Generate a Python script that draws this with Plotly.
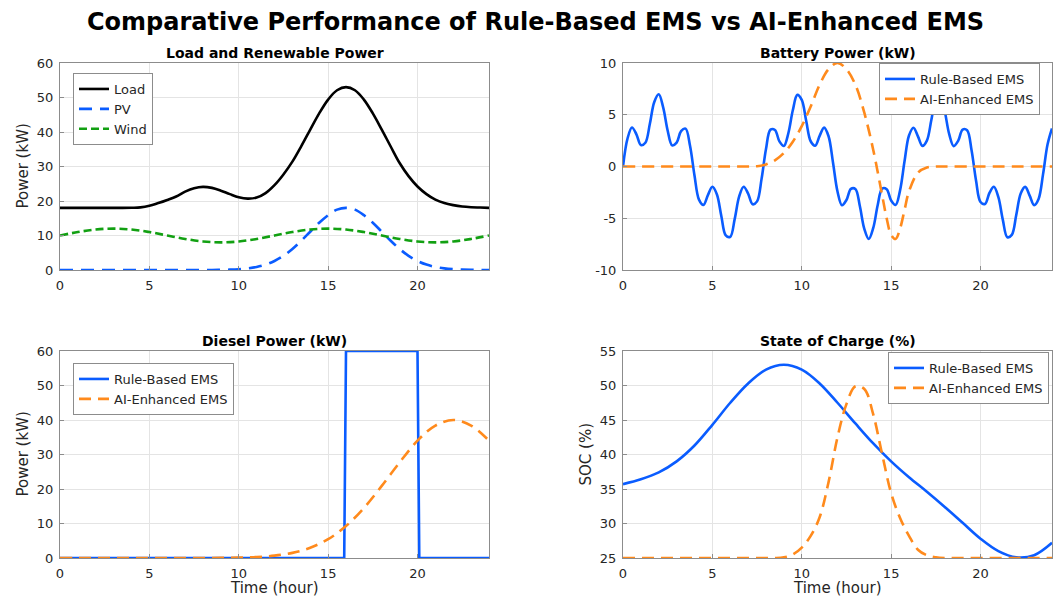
import plotly.graph_objects as go

W, H = 1061, 599

# ---------------- data ----------------
half_hours = [i * 0.5 for i in range(49)]
quarter_hours = [i * 0.25 for i in range(97)]
hours = list(range(25))

load_kw = [18.0, 18.0, 18.0, 18.0, 18.0, 18.0, 18.0, 18.0, 18.05, 18.15,
           18.6, 19.4, 20.3, 21.3, 22.7, 23.7, 24.1, 23.8, 23.0, 22.0,
           21.1, 20.7, 21.0, 22.3, 24.6, 27.7, 31.4, 35.9, 40.7, 45.4,
           49.4, 52.1, 53.0, 52.1, 49.4, 45.4, 40.7, 35.8, 31.0, 27.2,
           24.2, 22.0, 20.4, 19.4, 18.8, 18.4, 18.2, 18.1, 18.0]

pv_kw = [0, 0, 0, 0, 0, 0, 0, 0, 0, 0, 0, 0, 0, 0, 0, 0, 0, 0,
         0.05, 0.11, 0.23, 0.47, 0.89, 1.57, 2.62, 4.11, 6.09, 8.48,
         11.1, 13.7, 15.9, 17.5, 18.0, 17.5, 15.9, 13.7, 11.1, 8.48,
         6.09, 4.11, 2.62, 1.57, 0.89, 0.47, 0.23, 0.11, 0.05, 0.02, 0.01]

wind_kw = [10.0, 11.0, 11.73, 12.0, 11.73, 11.0, 10.0, 9.0, 8.27, 8.0,
           8.27, 9.0, 10.0, 11.0, 11.73, 12.0, 11.73, 11.0, 10.0, 9.0,
           8.27, 8.0, 8.27, 9.0, 10.0]

batt_rule_kw = [0.0, 2.68, 3.77, 3.11, 2.07, 2.29, 4.10, 6.24, 6.98, 5.69,
                3.46, 2.04, 2.30, 3.42, 3.66, 2.01, -0.87, -3.20, -3.71, -2.76,
                -1.96, -2.68, -4.78, -6.66, -6.79, -5.06, -2.89, -1.95, -2.62, -3.65,
                -3.37, -1.22, 1.69, 3.56, 3.53, 2.43, 1.98, 3.21, 5.43, 6.92,
                6.44, 4.39, 2.44, 2.01, 2.96, 3.76, 2.92, 0.37, -2.41, -3.74,
                -3.24, -2.16, -2.17, -3.82, -6.02, -7.00, -5.94, -3.72, -2.13, -2.19,
                -3.29, -3.72, -2.31, 0.50, 3.00, 3.75, 2.91, 1.99, 2.50, 4.49,
                6.50, 6.90, 5.34, 3.12, 1.97, 2.48, 3.57, 3.51, 1.57, -1.35,
                -3.43, -3.62, -2.56, -1.96, -2.97, -5.16, -6.83, -6.61, -4.68, -2.61,
                -1.97, -2.81, -3.73, -3.13, -0.74, 2.12, 3.68]

batt_ai_t = [0, 6, 7, 7.5, 8, 8.5, 9, 9.5, 10, 10.5, 11, 11.5, 12, 12.5, 13,
             13.5, 14, 14.5, 14.75, 15, 15.25, 15.5, 15.75, 16, 16.5, 17,
             17.5, 18, 24]
batt_ai_kw = [0, 0, 0.0, 0.03, 0.2, 0.6, 1.3, 2.4, 3.9, 5.8, 7.9, 9.4, 10.0,
              9.4, 7.9, 5.2, 1.6, -2.8, -5.0, -6.6, -7.0, -6.0, -4.2, -2.4,
              -0.6, -0.1, 0, 0, 0]

diesel_rule_t = [0, 15.9, 16.0, 20.0, 20.1, 24]
diesel_rule_kw = [0, 0, 60, 60, 0, 0]

diesel_ai_kw = [0, 0, 0, 0, 0, 0, 0, 0, 0.01, 0.04, 0.12, 0.29, 0.69, 1.49,
                2.97, 5.45, 9.26, 14.5, 20.9, 27.7, 34.0, 38.4, 40.0, 38.4, 34.0]

soc_rule = [35.7, 36.4, 37.4, 39.0, 41.3, 44.3, 47.5, 50.3, 52.3, 53.0,
            52.3, 50.3, 47.5, 44.5, 41.6, 39.0, 36.7, 34.6, 32.4, 30.1,
            27.8, 26.0, 25.1, 25.4, 27.2]

soc_ai = [25.0] * 18 + [25.1, 25.5, 26.5, 28.2, 30.9, 36.0, 42.5, 47.3, 49.9,
                        49.5, 45.8, 40.0, 34.4, 30.8, 28.2, 26.2, 25.4, 25.1, 25.0] + [25.0] * 12

x_ticks = [0, 5, 10, 15, 20]
batt_ticks = [-10, -5, 0, 5, 10]
batt_tick_labels = ['-10', '-5', '0', '5', '10']

# ---------------- styling ----------------
BLUE = '#0a5cff'
ORANGE = '#ff8a1c'
GREEN = '#12a012'
FONT = 'DejaVu Sans'

fig = go.Figure()

def line(x, y, name, color, ax, legend, dash='solid', width=2.6, shape='spline'):
    fig.add_trace(go.Scatter(
        x=x, y=y, name=name, mode='lines',
        line=dict(color=color, width=width, dash=dash, shape=shape),
        xaxis='x' + ax, yaxis='y' + ax, legend=legend, showlegend=True))

line(half_hours, load_kw, 'Load', 'black', '', 'legend')
line(half_hours, pv_kw, 'PV', BLUE, '', 'legend', dash='13px,8px')
line(hours, wind_kw, 'Wind', GREEN, '', 'legend', dash='8px,4px')

line(quarter_hours, batt_rule_kw, 'Rule-Based EMS', BLUE, '2', 'legend2')
line(batt_ai_t, batt_ai_kw, 'AI-Enhanced EMS', ORANGE, '2', 'legend2', dash='12px,7px')

line(diesel_rule_t, diesel_rule_kw, 'Rule-Based EMS', BLUE, '3', 'legend3', shape='linear')
line(hours, diesel_ai_kw, 'AI-Enhanced EMS', ORANGE, '3', 'legend3', dash='12px,7px')

line(hours, soc_rule, 'Rule-Based EMS', BLUE, '4', 'legend4')
line(half_hours, soc_ai, 'AI-Enhanced EMS', ORANGE, '4', 'legend4', dash='12px,7px')

def px_x(p):
    return p / W

def px_y(p):
    return 1 - p / H

L1, R1 = 60, 489
L2, R2 = 623, 1052
T1, B1 = 63, 270
T2, B2 = 351, 558

axis_common = dict(
    showline=True, mirror=True, linecolor='#8c8c8c', linewidth=1,
    showgrid=True, gridcolor='#e4e4e4', gridwidth=1,
    ticks='inside', ticklen=4, tickcolor='#8c8c8c',
    tickfont=dict(family=FONT, size=13, color='#262626'),
    zeroline=False, ticklabelstandoff=3, automargin=False,
)

def xax(l, r, anchor):
    d = dict(axis_common)
    d.update(domain=[px_x(l), px_x(r)], range=[0, 24], tickvals=x_ticks, anchor=anchor)
    return d

def yax(t, b, rng, dtick, anchor, **extra):
    d = dict(axis_common)
    d.update(domain=[px_y(b), px_y(t)], range=rng, dtick=dtick, tick0=rng[0], anchor=anchor)
    d.update(extra)
    return d

legend_common = dict(
    bgcolor='white', bordercolor='#8c8c8c', borderwidth=1,
    font=dict(family=FONT, size=13, color='#262626'),
    tracegroupgap=0, itemwidth=30,
)

def leg(x, y, xanchor):
    d = dict(legend_common)
    d.update(x=x, y=y, xanchor=xanchor, yanchor='top', xref='paper', yref='paper')
    return d

ann = []
def text(x, y, s, size, bold=False, angle=0):
    ann.append(dict(
        x=px_x(x), y=px_y(y), xref='paper', yref='paper', showarrow=False,
        text=('<b>%s</b>' % s) if bold else s, textangle=angle,
        font=dict(family=FONT, size=size, color='#000000' if bold else '#262626'),
        xanchor='center', yanchor='middle'))

text(535, 22, 'Comparative Performance of Rule-Based EMS vs AI-Enhanced EMS', 24, bold=True)
text((L1 + R1) / 2, 53, 'Load and Renewable Power', 14, bold=True)
text((L2 + R2) / 2, 53, 'Battery Power (kW)', 14, bold=True)
text((L1 + R1) / 2, 341, 'Diesel Power (kW)', 14, bold=True)
text((L2 + R2) / 2, 341, 'State of Charge (%)', 14, bold=True)
text(22, (T1 + B1) / 2, 'Power (kW)', 15, angle=-90)
text(22, (T2 + B2) / 2, 'Power (kW)', 15, angle=-90)
text(585, (T2 + B2) / 2, 'SOC (%)', 15, angle=-90)
text((L1 + R1) / 2, 588, 'Time (hour)', 15)
text((L2 + R2) / 2, 588, 'Time (hour)', 15)

fig.update_layout(
    width=W, height=H, autosize=False,
    margin=dict(l=0, r=0, t=0, b=0, pad=0, autoexpand=False),
    paper_bgcolor='white', plot_bgcolor='white',
    font=dict(family=FONT, color='#262626'),
    xaxis=xax(L1, R1, 'y'), yaxis=yax(T1, B1, [0, 60], 10, 'x'),
    xaxis2=xax(L2, R2, 'y2'),
    yaxis2=yax(T1, B1, [-10, 10], 5, 'x2', tickvals=batt_ticks, ticktext=batt_tick_labels),
    xaxis3=xax(L1, R1, 'y3'), yaxis3=yax(T2, B2, [0, 60], 10, 'x3'),
    xaxis4=xax(L2, R2, 'y4'), yaxis4=yax(T2, B2, [25, 55], 5, 'x4'),
    legend=leg(px_x(73), px_y(73), 'left'),
    legend2=leg(px_x(1040), px_y(63), 'right'),
    legend3=leg(px_x(73), px_y(363), 'left'),
    legend4=leg(px_x(1049), px_y(352), 'right'),
    annotations=ann,
)

fig.write_html(
    'out.html',
    config={'displayModeBar': False},
    post_script="document.body.style.margin='0px';document.body.style.padding='0px';document.body.style.overflow='hidden';",
)
